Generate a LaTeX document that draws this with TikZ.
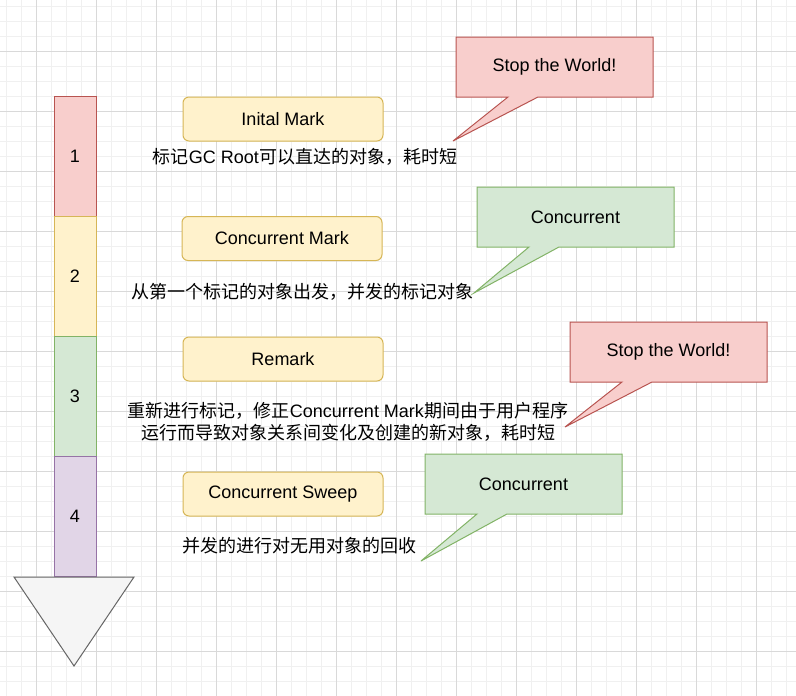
\documentclass[tikz,border=0pt]{standalone}
\usepackage{fontspec}
\setmainfont{Liberation Sans}
\newfontfamily\cjk{Noto Sans CJK SC}
\definecolor{rossofill}{HTML}{F8CECC}
\definecolor{rossoline}{HTML}{B85450}
\definecolor{gialfill}{HTML}{FFF2CC}
\definecolor{gialline}{HTML}{D6B656}
\definecolor{verdefill}{HTML}{D5E8D4}
\definecolor{verdeline}{HTML}{82B366}
\definecolor{viofill}{HTML}{E1D5E7}
\definecolor{violine}{HTML}{9673A6}
\definecolor{grigiofill}{HTML}{F5F5F5}
\definecolor{grigioline}{HTML}{666666}
\tikzset{
  grigliamin/.style={draw=black!6, line width=1pt},
  grigliamag/.style={draw=black!15, line width=1pt},
  fase/.style={draw=gialline, fill=gialfill, rounded corners=6pt,
    minimum width=200pt, minimum height=44pt},
  barra/.style={minimum width=42pt, minimum height=120pt}
}

\begin{document}
\begin{tikzpicture}[x=1pt,y=-1pt,line width=1pt,
  every node/.style={font=\fontsize{18}{22}\selectfont, inner sep=0pt}]

  % --- sfondo: griglia -------------------------------------------------------
  \useasboundingbox (0,0) rectangle (796,696);
  \fill[white] (0,0) rectangle (796,696);
  \foreach \i in {0,...,52} \draw[grigliamin] (6+\i*15,0) -- (6+\i*15,696);
  \foreach \i in {0,...,46} \draw[grigliamin] (0,6+\i*15) -- (796,6+\i*15);
  \foreach \i in {0,...,12} \draw[grigliamag] (36+\i*60,0) -- (36+\i*60,696);
  \foreach \i in {0,...,10} \draw[grigliamag] (0,51+\i*60) -- (796,51+\i*60);

  % --- colonna delle fasi 1..4 e freccia ------------------------------------
  \foreach \n/\f/\l in {1/rossofill/rossoline, 2/gialfill/gialline,
                        3/verdefill/verdeline, 4/viofill/violine} {
    \node[barra, draw=\l, fill=\f] (barra\n) at (75,36+\n*120) {\n};
  }
  \draw[fill=grigiofill, draw=grigioline] (14,577) -- (134,577) -- (74,666) -- cycle;

  % --- nomi delle fasi ------------------------------------------------------
  \node[fase] (initmark) at (283,119)   {Inital Mark};
  \node[fase] (concmark) at (282,238.5) {Concurrent Mark};
  \node[fase] (remark)   at (283,359)   {Remark};
  \node[fase] (sweep)    at (283,494)   {Concurrent Sweep};

  % descrizioni sotto ogni fase
  \node (nota1) at (305,157) {{\cjk 标记}GC Root{\cjk 可以直达的对象，耗时短}};
  \node (nota2) at (302,292) {\cjk 从第一个标记的对象出发，并发的标记对象};
  \node[align=center] (nota3) at (348,422)
    {{\cjk 重新进行标记，修正}Concurrent Mark{\cjk 期间由于用户程序}\\
     {\cjk 运行而导致对象关系间变化及创建的新对象，耗时短}};
  \node (nota4) at (299,546) {\cjk 并发的进行对无用对象的回收};

  % --- fumetti: Stop the World! / Concurrent --------------------------------
  \foreach \n/\xa/\ya/\xp/\yp/\f/\l/\testo in {
      1/456/37/453/141/rossofill/rossoline/Stop the World!,
      2/477/187/474/293/verdefill/verdeline/Concurrent,
      3/570/322/565/427/rossofill/rossoline/Stop the World!,
      4/425/454/421/561/verdefill/verdeline/Concurrent} {
    \coordinate (punta\n) at (\xp,\yp);
    \draw[fill=\f, draw=\l] (\xa,\ya) -- ++(197,0) -- ++(0,60)
      -- (\xa+82,\ya+60) -- (punta\n) -- (\xa+52,\ya+60) -- (\xa,\ya+60) -- cycle;
    \node (fumetto\n) at (\xa+98.5,\ya+30) {\testo};
  }

\end{tikzpicture}
\end{document}
